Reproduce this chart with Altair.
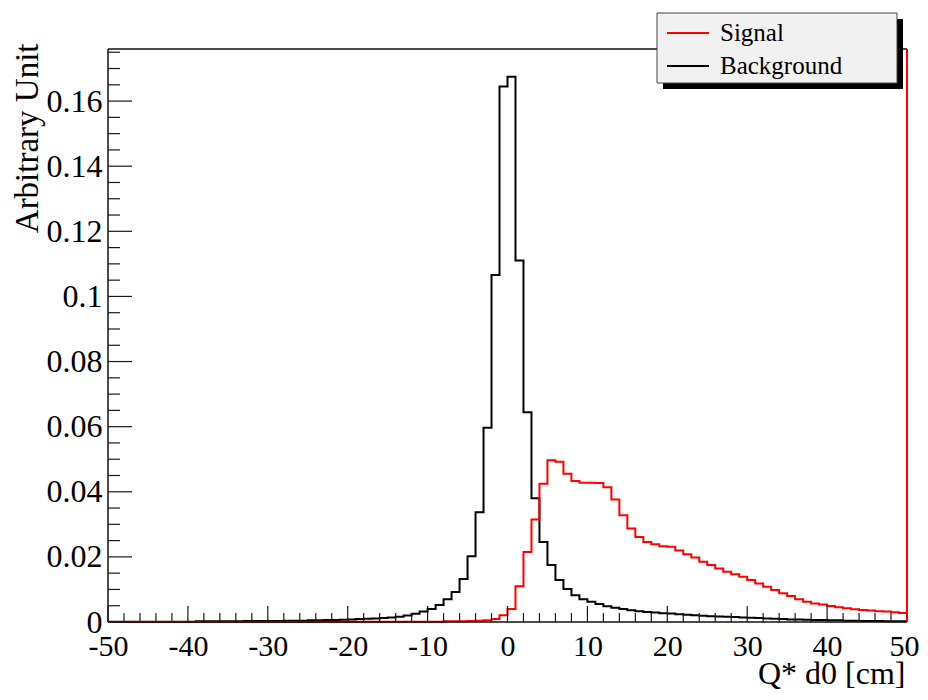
import altair as alt
import pandas as pd

# ---------------- data ----------------
bin_edges = list(range(-50, 51))  # 100 bins of width 1 cm

background = [
    # -50 .. -41
    0.0001, 0.0001, 0.0001, 0.0001, 0.0001, 0.0001, 0.0001, 0.0001, 0.0001, 0.0001,
    # -40 .. -31
    0.0001, 0.0002, 0.0002, 0.0002, 0.0002, 0.0002, 0.0002, 0.0003, 0.0003, 0.0003,
    # -30 .. -21
    0.0003, 0.0003, 0.0004, 0.0004, 0.0004, 0.0005, 0.0005, 0.0006, 0.0006, 0.0007,
    # -20 .. -11
    0.0008, 0.0009, 0.0010, 0.0011, 0.0012, 0.0014, 0.0016, 0.0020, 0.0025, 0.0032,
    # -10 .. -1
    0.0040, 0.0052, 0.0070, 0.0092, 0.0132, 0.0202, 0.0337, 0.0597, 0.1066, 0.1645,
    # 0 .. 9
    0.1675, 0.1110, 0.0644, 0.0380, 0.0246, 0.0175, 0.0129, 0.0101, 0.0082, 0.0070,
    # 10 .. 19
    0.0062, 0.0055, 0.0048, 0.0044, 0.0040, 0.0036, 0.0033, 0.0031, 0.0029, 0.0027,
    # 20 .. 29
    0.0026, 0.0024, 0.0022, 0.0021, 0.0019, 0.0018, 0.0017, 0.0016, 0.0015, 0.0014,
    # 30 .. 39
    0.0013, 0.0012, 0.0011, 0.0010, 0.0009, 0.0008, 0.0008, 0.0007, 0.0006, 0.0006,
    # 40 .. 49
    0.0005, 0.0005, 0.0004, 0.0004, 0.0003, 0.0003, 0.0003, 0.0002, 0.0002, 0.0002,
]

signal = [
    # -50 .. -41
    0.0, 0.0, 0.0, 0.0, 0.0, 0.0, 0.0, 0.0, 0.0, 0.0,
    # -40 .. -31
    0.0, 0.0, 0.0, 0.0, 0.0, 0.0, 0.0, 0.0, 0.0, 0.0,
    # -30 .. -21
    0.0, 0.0, 0.0, 0.0, 0.0, 0.0, 0.0001, 0.0001, 0.0001, 0.0001,
    # -20 .. -11
    0.0001, 0.0001, 0.0001, 0.0001, 0.0001, 0.0001, 0.0001, 0.0001, 0.0001, 0.0001,
    # -10 .. -1
    0.0001, 0.0001, 0.0002, 0.0002, 0.0002, 0.0003, 0.0004, 0.0005, 0.0009, 0.0021,
    # 0 .. 9
    0.0040, 0.0110, 0.0215, 0.0315, 0.0425, 0.0497, 0.0492, 0.0455, 0.0433, 0.0428,
    # 10 .. 19
    0.0428, 0.0427, 0.0414, 0.0376, 0.0328, 0.0287, 0.0261, 0.0246, 0.0239, 0.0233,
    # 20 .. 29
    0.0231, 0.0220, 0.0208, 0.0198, 0.0185, 0.0175, 0.0164, 0.0154, 0.0147, 0.0139,
    # 30 .. 39
    0.0129, 0.0118, 0.0108, 0.0098, 0.0088, 0.0080, 0.0070, 0.0062, 0.0057, 0.0054,
    # 40 .. 49
    0.0049, 0.0045, 0.0042, 0.0039, 0.0037, 0.0035, 0.0033, 0.0032, 0.0030, 0.0028,
]

series_names = ["Signal", "Background"]
series_colors = ["#ff0000", "#000000"]

x_major = [-50, -40, -30, -20, -10, 0, 10, 20, 30, 40, 50]
x_minor = [v for v in range(-48, 50, 2) if v % 10 != 0]
y_major = [0.0, 0.02, 0.04, 0.06, 0.08, 0.10, 0.12, 0.14, 0.16]
y_minor = [round(0.005 * k, 3) for k in range(1, 36) if k % 4 != 0]

X_DOMAIN = [-50, 50]
Y_DOMAIN = [0, 0.176]
W, H = 799, 573
SERIF = "Liberation Serif"

# ---------------- tables ----------------
rows = []
for name, vals in (("Background", background), ("Signal", signal)):
    for i, v in enumerate(vals):
        rows.append({"series": name, "x": bin_edges[i], "y": v})
    rows.append({"series": name, "x": bin_edges[-1], "y": vals[-1]})
hist = pd.DataFrame(rows)

xs = alt.Scale(domain=X_DOMAIN, nice=False, zero=False)
ys = alt.Scale(domain=Y_DOMAIN, nice=False, zero=False)

color = alt.Color(
    "series:N",
    title=None,
    sort=series_names,
    scale=alt.Scale(domain=series_names, range=series_colors),
    legend=alt.Legend(
        orient="none",
        legendX=565,
        legendY=-31,
        padding=0,
        symbolType="M-1.5,0H1.5",
        symbolSize=784,
        symbolStrokeWidth=2,
        labelFont=SERIF,
        labelFontSize=25,
        labelColor="black",
        labelOffset=17,
        rowPadding=5,
    ),
)

x_axis = alt.Axis(
    values=x_major,
    labelExpr="'' + datum.value",
    ticks=False,
    domain=False,
    grid=False,
    labelFlush=False,
    labelOverlap=False,
    labelOffset={"condition": {"test": "datum.value == 50", "value": -3}, "value": 0},
    labelFont=SERIF,
    labelFontSize=30,
    labelColor="black",
    labelBaseline="alphabetic",
    labelPadding=33,
    title="Q* d0 [cm]",
    titleFont=SERIF,
    titleFontSize=32,
    titleFontWeight="normal",
    titleColor="black",
    titleAlign="right",
    titleBaseline="alphabetic",
    titleX=797,
    titleY=61,
)

y_axis = alt.Axis(
    values=y_major,
    labelExpr="format(datum.value, '~g')",
    ticks=False,
    domain=False,
    grid=False,
    labelFlush=False,
    labelOverlap=False,
    labelFont=SERIF,
    labelFontSize=32,
    labelColor="black",
    labelPadding=6,
    title="Arbitrary Unit",
    titleFont=SERIF,
    titleFontSize=33,
    titleFontWeight="normal",
    titleColor="black",
    titleAngle=270,
    titleAlign="right",
    titleBaseline="alphabetic",
    titleX=-71,
    titleY=-6,
)

one = pd.DataFrame({"a": [0]})

bg_line = (
    alt.Chart(hist)
    .transform_filter(alt.datum.series == "Background")
    .mark_line(interpolate="step-after", strokeWidth=2)
    .encode(
        x=alt.X("x:Q", scale=xs, axis=x_axis),
        y=alt.Y("y:Q", scale=ys, axis=y_axis),
        color=color,
    )
)
sig_line = (
    alt.Chart(hist)
    .transform_filter(alt.datum.series == "Signal")
    .mark_line(interpolate="step-after", strokeWidth=2)
    .encode(
        x=alt.X("x:Q", scale=xs),
        y=alt.Y("y:Q", scale=ys),
        color=color,
    )
)

tick_col = "#1a1a1a"
xmaj = alt.Chart(pd.DataFrame({"x": x_major})).mark_rule(color=tick_col, strokeWidth=1.2).encode(
    x=alt.X("x:Q", scale=xs), y=alt.value(H), y2=alt.value(H - 16)
)
xmin = alt.Chart(pd.DataFrame({"x": x_minor})).mark_rule(color=tick_col, strokeWidth=1.2).encode(
    x=alt.X("x:Q", scale=xs), y=alt.value(H), y2=alt.value(H - 9)
)
ymaj = alt.Chart(pd.DataFrame({"y": y_major})).mark_rule(color=tick_col, strokeWidth=1.2).encode(
    y=alt.Y("y:Q", scale=ys), x=alt.value(0), x2=alt.value(24)
)
ymin = alt.Chart(pd.DataFrame({"y": y_minor})).mark_rule(color=tick_col, strokeWidth=1.2).encode(
    y=alt.Y("y:Q", scale=ys), x=alt.value(0), x2=alt.value(12)
)

frame_col = "#111111"
frame_top = alt.Chart(one).mark_rule(color=frame_col, strokeWidth=1.5).encode(
    x=alt.value(0), x2=alt.value(W), y=alt.value(0)
)
frame_left = alt.Chart(one).mark_rule(color=frame_col, strokeWidth=1.5).encode(
    x=alt.value(0), y=alt.value(0), y2=alt.value(H)
)
frame_bottom = alt.Chart(one).mark_rule(color=frame_col, strokeWidth=1.5).encode(
    x=alt.value(0), x2=alt.value(W), y=alt.value(H)
)
frame_right = alt.Chart(one).mark_rule(color=frame_col, strokeWidth=1.5).encode(
    x=alt.value(W), y=alt.value(0), y2=alt.value(H)
)
red_edge = alt.Chart(pd.DataFrame({"x": [50], "y": [0.0], "y1": [Y_DOMAIN[1]]})).mark_rule(
    color="#ff0000", strokeWidth=2
).encode(
    x=alt.X("x:Q", scale=xs),
    y=alt.Y("y:Q", scale=ys),
    y2="y1:Q",
)

shadow = alt.Chart(one).mark_rect(color="black").encode(
    x=alt.value(555), x2=alt.value(795), y=alt.value(-30), y2=alt.value(40)
)
box = alt.Chart(one).mark_rect(fill="#f1f1f1", stroke="#444444", strokeWidth=1).encode(
    x=alt.value(549), x2=alt.value(789), y=alt.value(-36), y2=alt.value(34)
)

chart = (
    alt.layer(
        bg_line, sig_line,
        frame_top, frame_left, frame_bottom, frame_right,
        xmaj, xmin, ymaj, ymin,
        red_edge,
        shadow, box,
    )
    .properties(
        width=W,
        height=H,
        autosize=alt.AutoSizeParams(type="none"),
        padding={"left": 100, "top": 41, "right": 13, "bottom": 68},
        background="white",
    )
    .configure_view(stroke="transparent", strokeWidth=0)
)

chart.save("out.html", embed_options={"renderer": "svg", "actions": False})
